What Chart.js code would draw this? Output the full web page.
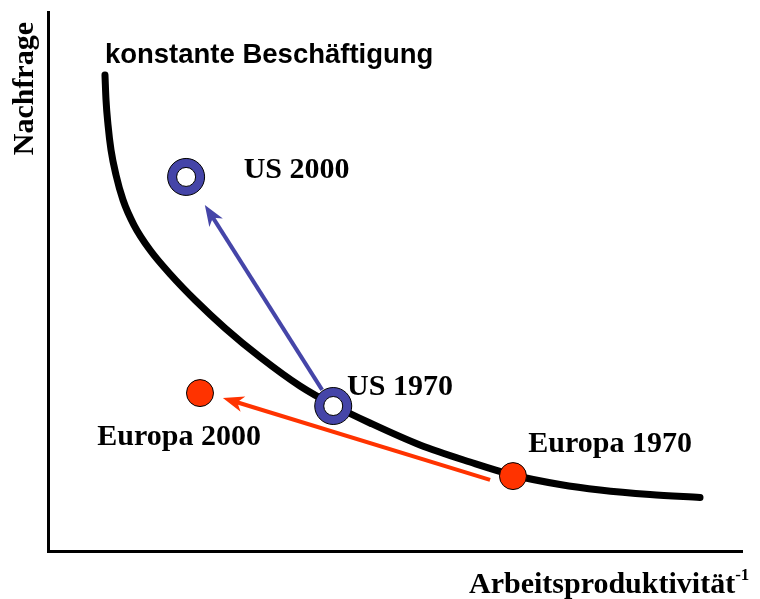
<!DOCTYPE html>
<html><head><meta charset="utf-8">
<script src="https://cdn.jsdelivr.net/npm/chart.js@4/dist/chart.umd.min.js"></script>
<style>html,body{margin:0;padding:0;background:#fff;overflow:hidden}</style>
</head><body>
<canvas id="c" width="760" height="599"></canvas>
<script>
// curve "konstante Beschäftigung" (abstract units 0..100 on both axes)
const curveX = [8.21, 8.36, 8.65, 9.08, 9.80, 10.81, 12.39, 14.70, 17.72, 21.18, 25.50, 30.55, 36.31, 41.07, 46.40, 53.60, 60.81, 67.00, 73.78, 79.54, 86.74, 93.95];
const curveY = [88.31, 83.67, 79.04, 74.40, 69.76, 65.12, 60.48, 55.84, 51.21, 46.57, 41.37, 35.99, 30.61, 27.09, 23.75, 19.67, 16.51, 14.10, 12.34, 11.32, 10.48, 9.93];
// points
const usNames = ['US 2000', 'US 1970'];
const usX = [19.9, 41.1];
const usY = [69.4, 26.9];
const euNames = ['Europa 2000', 'Europa 1970'];
const euX = [21.9, 67.0];
const euY = [29.3, 13.9];
// arrows (from -> to)
const arrowColors = ['#4545A8', '#FF3300'];
const arrowFromX = [39.5, 63.7];
const arrowFromY = [29.9, 13.2];
const arrowToX = [22.6, 25.2];
const arrowToY = [64.2, 28.4];
// labels
const labelTexts = ['US 2000', 'US 1970', 'Europa 2000', 'Europa 1970'];
const labelX = [28.2, 43.1, 7.1, 69.2];
const labelY = [69.2, 28.9, 19.7, 18.4];
const curveLabel = 'konstante Beschäftigung';
const curveLabelX = 8.2, curveLabelY = 90.5;
const xTitle = 'Arbeitsproduktivität';
const xTitleSup = '-1';
const yTitle = 'Nachfrage';

const BLUE = '#4545A8', RED = '#FF3300';
const toPts = (xs, ys) => xs.map((v, i) => ({x: v, y: ys[i]}));

function drawArrow(ctx, x0, y0, x1, y1, color, w) {
  const ang = Math.atan2(y1 - y0, x1 - x0);
  const L = 21, H = 8, N = 15;
  const c = Math.cos(ang), s = Math.sin(ang);
  ctx.save();
  ctx.strokeStyle = color; ctx.fillStyle = color; ctx.lineWidth = w;
  ctx.beginPath();
  ctx.moveTo(x0, y0);
  ctx.lineTo(x1 - c * (N - 2), y1 - s * (N - 2));
  ctx.stroke();
  ctx.beginPath();
  ctx.moveTo(x1, y1);
  ctx.lineTo(x1 - c * L - s * H, y1 - s * L + c * H);
  ctx.lineTo(x1 - c * N, y1 - s * N);
  ctx.lineTo(x1 - c * L + s * H, y1 - s * L - c * H);
  ctx.closePath();
  ctx.fill();
  ctx.restore();
}

const annot = {
  id: 'annot',
  beforeDatasetsDraw(chart) {
    const {ctx, scales: {x, y}} = chart;
    for (let i = 0; i < arrowFromX.length; i++) {
      drawArrow(ctx, x.getPixelForValue(arrowFromX[i]), y.getPixelForValue(arrowFromY[i]),
        x.getPixelForValue(arrowToX[i]), y.getPixelForValue(arrowToY[i]), arrowColors[i], 4);
    }
  },
  afterDraw(chart) {
    const {ctx, chartArea: ca, scales: {x, y}} = chart;
    ctx.save();
    ctx.fillStyle = '#000';
    ctx.textBaseline = 'alphabetic';
    ctx.textAlign = 'left';
    ctx.font = 'bold 27.5px "Liberation Sans", Arial, sans-serif';
    ctx.fillText(curveLabel, x.getPixelForValue(curveLabelX), y.getPixelForValue(curveLabelY));
    ctx.font = 'bold 30px "Liberation Serif", "Times New Roman", serif';
    labelTexts.forEach((t, i) => ctx.fillText(t, x.getPixelForValue(labelX[i]), y.getPixelForValue(labelY[i])));
    // x title
    const xs = 469, yb = 593;
    ctx.fillText(xTitle, xs, yb);
    const w = ctx.measureText(xTitle).width;
    ctx.font = 'bold 17px "Liberation Serif", "Times New Roman", serif';
    ctx.fillText(xTitleSup, xs + w, yb - 13);
    // y title
    ctx.font = 'bold 30px "Liberation Serif", "Times New Roman", serif';
    ctx.translate(33, ca.top + 10);
    ctx.rotate(-Math.PI / 2);
    ctx.textAlign = 'right';
    ctx.fillText(yTitle, 0, 0);
    ctx.restore();
  }
};

new Chart(document.getElementById('c'), {
  type: 'scatter',
  data: {
    datasets: [
      {label: 'konstante Beschäftigung', type: 'line', data: toPts(curveX, curveY), borderColor: '#000', borderWidth: 7,
        borderCapStyle: 'round', borderJoinStyle: 'round', cubicInterpolationMode: 'monotone', pointRadius: 0, fill: false, order: 10},
      {label: 'US outer', data: toPts(usX, usY), pointRadius: 18.5, backgroundColor: BLUE, borderColor: '#000', borderWidth: 1, order: 5},
      {label: 'US inner', data: toPts(usX, usY), pointRadius: 9.5, backgroundColor: '#fff', borderColor: '#000', borderWidth: 1, order: 4},
      {label: 'Europa', data: toPts(euX, euY), pointRadius: 13.5, backgroundColor: RED, borderColor: '#000', borderWidth: 1, order: 3}
    ]
  },
  options: {
    responsive: false,
    animation: false,
    events: [],
    layout: {autoPadding: false, padding: {left: 48, top: 12, right: 18, bottom: 48}},
    plugins: {legend: {display: false}, tooltip: {enabled: false}, title: {display: false}},
    elements: {point: {hoverRadius: 0}},
    scales: {
      x: {type: 'linear', min: 0, max: 100, ticks: {display: false}, grid: {display: false, drawTicks: false},
        border: {display: true, color: '#000', width: 3}},
      y: {type: 'linear', min: 0, max: 100, ticks: {display: false}, grid: {display: false, drawTicks: false},
        border: {display: true, color: '#000', width: 3}}
    }
  },
  plugins: [annot]
});
</script>
</body></html>
